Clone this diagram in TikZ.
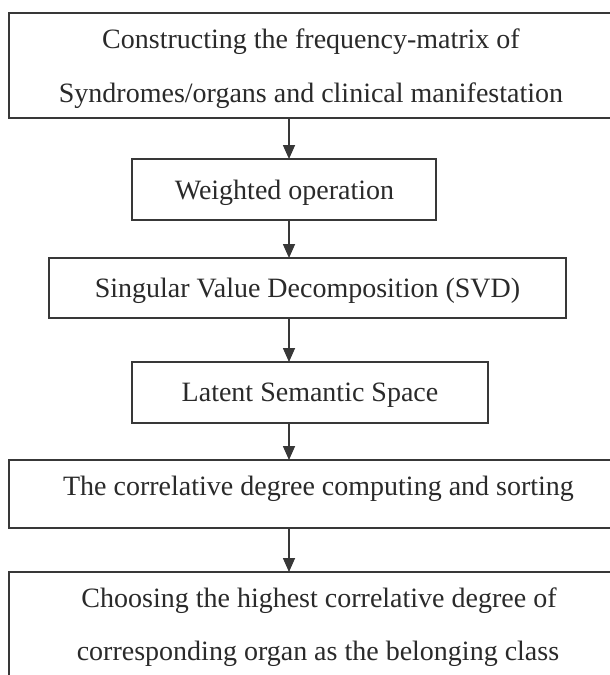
\documentclass[tikz,border=0pt]{standalone}
\usepackage{fontspec}
\setmainfont{Liberation Serif}
\usetikzlibrary{arrows.meta}
\definecolor{ink}{HTML}{2A2A2A}
\definecolor{linec}{HTML}{383838}
\begin{document}
\begin{tikzpicture}[x=1pt,y=-1pt,
  box/.style={draw=linec, line width=1.6pt, rectangle, inner sep=0pt, outer sep=0pt, anchor=north west},
  txt/.style={text=ink, anchor=base, inner sep=0pt, font=\fontsize{28}{34}\selectfont},
  arr/.style={draw=linec, line width=1.6pt, -{Triangle[length=14pt,width=12pt]}}]
\useasboundingbox (0,0) rectangle (610,675);
\clip (0,0) rectangle (610,675);
\fill[white] (0,0) rectangle (610,675);
\coordinate (ax) at (289,0);
% boxes
\node[box, minimum width=604pt, minimum height=105pt] (b1) at (9,13) {};
\node[box, minimum width=304pt, minimum height=61pt] (b2) at (132,159) {};
\node[box, minimum width=517pt, minimum height=60pt] (b3) at (49,258) {};
\node[box, minimum width=356pt, minimum height=61pt] (b4) at (132,362) {};
\node[box, minimum width=619pt, minimum height=68pt] (b5) at (9,460) {};
\node[box, minimum width=619pt, minimum height=130pt] (b6) at (9,572) {};
% texts
\node[txt] (t1a) at (311,48) {Constructing the frequency-matrix of};
\node[txt] (t1b) at (311,102) {Syndromes/organs and clinical manifestation};
\node[txt] (t2) at (284.5,199) {Weighted operation};
\node[txt] (t3) at (307.5,297) {Singular Value Decomposition (SVD)};
\node[txt] (t4) at (310,401) {Latent Semantic Space};
\node[txt] (t5) at (318.5,495) {The correlative degree computing and sorting};
\node[txt] (t6a) at (319,607) {Choosing the highest correlative degree of};
\node[txt] (t6b) at (318,660) {corresponding organ as the belonging class};
% arrows
\draw[arr] (b1.south -| ax) -- (b2.north -| ax);
\draw[arr] (b2.south -| ax) -- (b3.north -| ax);
\draw[arr] (b3.south -| ax) -- (b4.north -| ax);
\draw[arr] (b4.south -| ax) -- (b5.north -| ax);
\draw[arr] (b5.south -| ax) -- (b6.north -| ax);
\end{tikzpicture}
\end{document}
